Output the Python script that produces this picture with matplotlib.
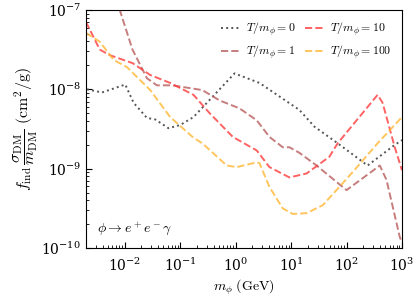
import matplotlib
matplotlib.use("Agg")
import matplotlib.pyplot as plt
import numpy as np

plt.rcParams["mathtext.fontset"] = "cm"
plt.rcParams["font.family"] = "DejaVu Serif"

# log10 of mass (GeV) and log10 of f_ind * sigma/m (cm^2/g)
logm_T0 = [-2.68, -2.41, -1.99, -1.84, -1.60, -1.45, -1.21, -1.00, -0.76, -0.02,
           0.43, 1.15, 1.42, 1.84, 2.38, 2.87, 3.00]
logs_T0 = [-8.00, -8.04, -7.94, -8.17, -8.36, -8.38, -8.49, -8.45, -8.35, -7.80,
           -7.92, -8.26, -8.47, -8.68, -8.96, -8.70, -8.64]

logm_T1 = [-2.14, -2.09, -1.86, -1.60, -1.42, -1.14, -0.60, -0.29, 0.07, 0.38,
           0.61, 0.85, 0.97, 1.15, 1.46, 2.00, 2.60, 2.72, 2.96, 3.00]
logs_T1 = [-6.80, -7.00, -7.50, -7.86, -7.95, -7.95, -8.01, -8.14, -8.24, -8.39,
           -8.60, -8.73, -8.73, -8.80, -8.96, -9.27, -8.96, -9.14, -9.86, -9.93]

logm_T10 = [-2.70, -2.45, -2.27, -1.86, -1.54, -1.18, -0.76, -0.47, -0.05, 0.38,
            0.61, 0.97, 1.28, 1.69, 1.84, 2.56, 2.65, 2.87, 3.00]
logs_T10 = [-7.15, -7.50, -7.57, -7.67, -7.82, -7.92, -8.07, -8.30, -8.60, -8.77,
            -8.98, -9.11, -9.06, -8.85, -8.68, -8.07, -8.17, -8.73, -9.02]

logm_T100 = [-2.70, -2.45, -2.20, -1.96, -1.54, -1.18, -0.76, -0.60, -0.16, 0.02,
             0.38, 0.43, 0.61, 0.85, 1.03, 1.28, 1.57, 1.87, 2.14, 2.56, 3.00]
logs_T100 = [-7.29, -7.40, -7.63, -7.72, -8.01, -8.35, -8.61, -8.68, -8.96, -8.98,
             -8.92, -8.93, -9.23, -9.50, -9.57, -9.56, -9.46, -9.23, -9.02, -8.68, -8.35]

labels = [r"$T/m_\phi = 0$", r"$T/m_\phi = 1$", r"$T/m_\phi = 10$", r"$T/m_\phi = 100$"]
xticks = [1e-2, 1e-1, 1e0, 1e1, 1e2, 1e3]
yticks = [1e-10, 1e-9, 1e-8, 1e-7]

fig = plt.figure(figsize=(4.17, 3.0), dpi=100)
ax = fig.add_axes([0.206, 0.173, 0.758, 0.794])

ax.plot(10**np.array(logm_T0), 10**np.array(logs_T0), ls=":", color="#555555", lw=1.4, label=labels[0])
ax.plot(10**np.array(logm_T1), 10**np.array(logs_T1), ls="--", color="#b85c5c", alpha=0.8, lw=1.4, label=labels[1])
ax.plot(10**np.array(logm_T10), 10**np.array(logs_T10), ls="--", color="#ff3b3b", alpha=0.8, lw=1.4, label=labels[2])
ax.plot(10**np.array(logm_T100), 10**np.array(logs_T100), ls="--", color="#ffb733", alpha=0.8, lw=1.4, label=labels[3])

ax.set_xscale("log")
ax.set_yscale("log")
ax.set_xticks(xticks)
ax.set_yticks(yticks)
ax.set_xlim(10**-2.7, 1e3)
ax.set_ylim(1e-10, 1e-7)
ax.tick_params(which="both", direction="in", labelsize=10)
ax.tick_params(axis="x", which="both", pad=6)
ax.tick_params(which="major", length=4)
ax.tick_params(which="minor", length=2)

ax.set_xlabel(r"$m_\phi\ (\mathrm{GeV})$", fontsize=10, labelpad=3)
ax.set_ylabel(r"$f_{\rm ind}\,\dfrac{\sigma_{\rm DM}}{m_{\rm DM}}\ ({\rm cm}^2/{\rm g})$", fontsize=11.5, labelpad=1)
ax.text(0.035, 0.065, r"$\phi \to e^+e^-\gamma$", transform=ax.transAxes, fontsize=10)

ax.legend(ncol=2, frameon=False, fontsize=8.5, loc="upper right", handlelength=1.6,
          columnspacing=0.8, handletextpad=0.5, labelspacing=0.45)

fig.savefig("out.png", dpi=100)
